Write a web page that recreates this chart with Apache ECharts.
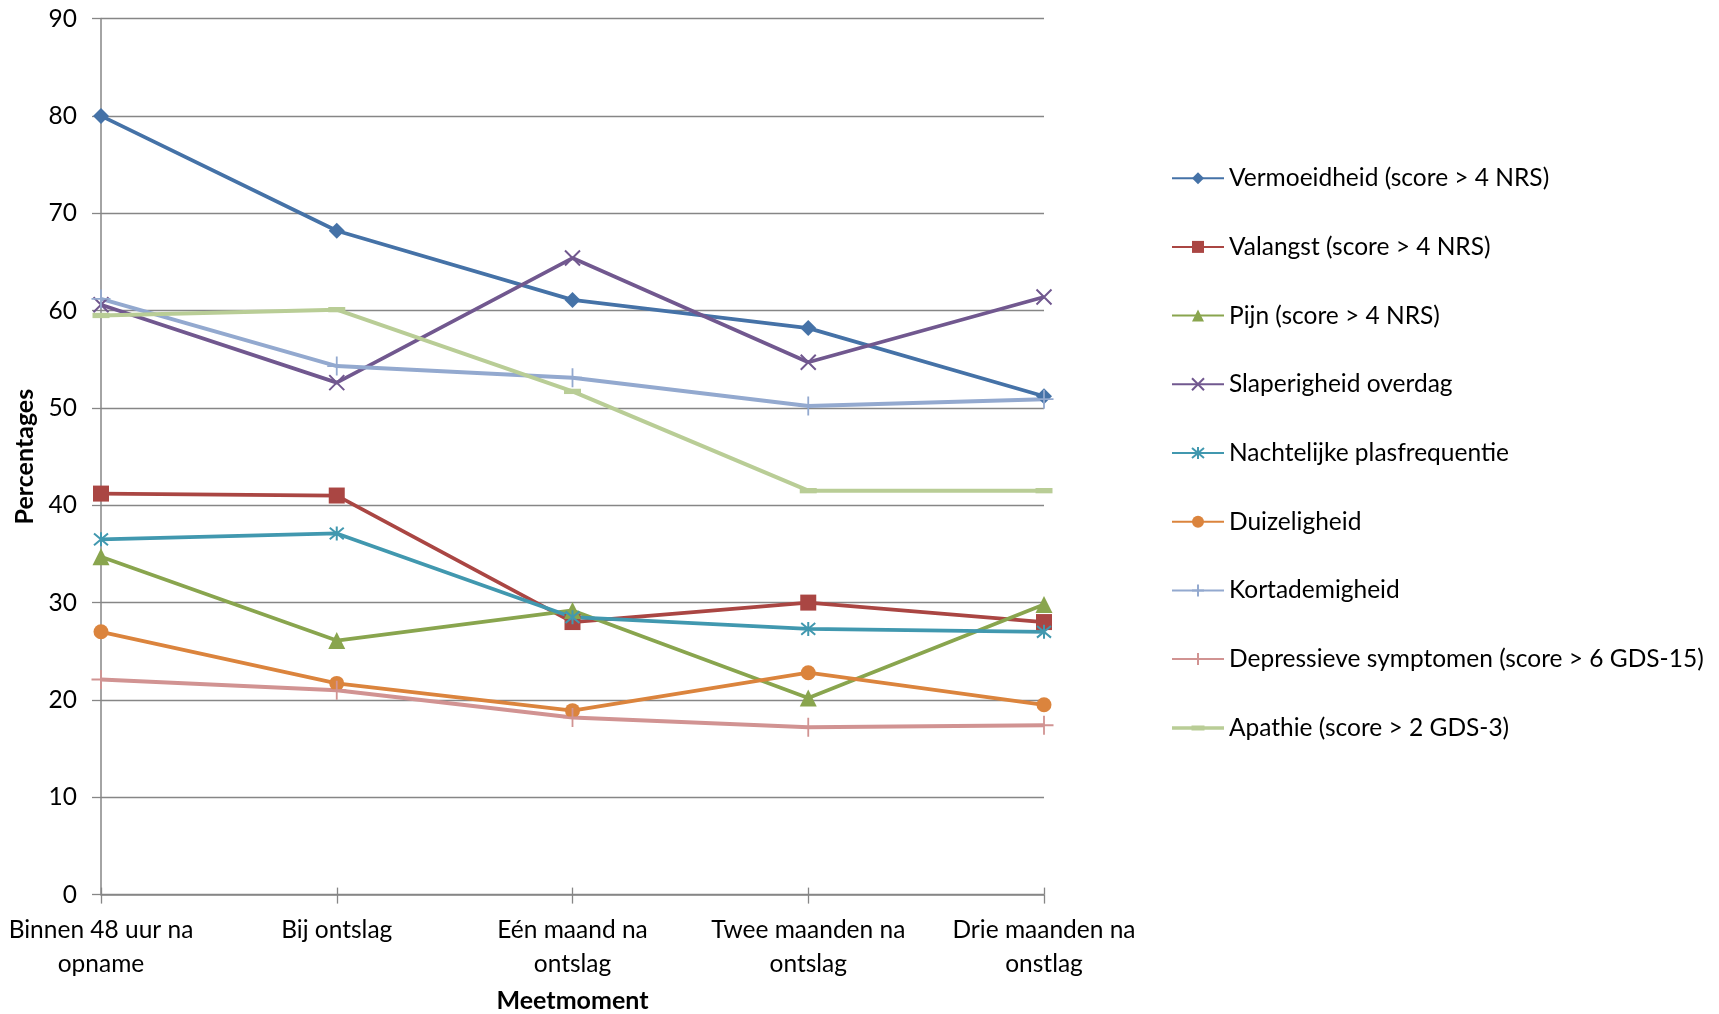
<!DOCTYPE html>
<html>
<head>
<meta charset="utf-8">
<script src="https://cdn.jsdelivr.net/npm/echarts@6/dist/echarts.min.js"></script>
<style>
html,body{margin:0;padding:0;background:#fff;}
#chart{width:1719px;height:1014px;}
</style>
</head>
<body>
<div id="chart"></div>
<script>
const categories = ["Binnen 48 uur na\nopname", "Bij ontslag", "Eén maand na\nontslag", "Twee maanden na\nontslag", "Drie maanden na\nonstlag"];
const yTicks = { min: 0, max: 90, interval: 10 };

const vermoeidheid   = [80.0, 68.2, 61.1, 58.2, 51.2];
const valangst       = [41.2, 41.0, 28.0, 30.0, 28.0];
const pijn           = [34.7, 26.1, 29.2, 20.2, 29.8];
const slaperigheid   = [60.6, 52.6, 65.4, 54.7, 61.4];
const nachtelijke    = [36.5, 37.1, 28.5, 27.3, 27.0];
const duizeligheid   = [27.0, 21.7, 18.9, 22.8, 19.5];
const kortademigheid = [61.2, 54.3, 53.1, 50.2, 50.9];
const depressieve    = [22.1, 21.0, 18.2, 17.2, 17.4];
const apathie        = [59.5, 60.1, 51.7, 41.5, 41.5];

const FONT = 'Lato';
const FS = 24.5;
const PATH_X = 'path://M0,0 L10,10 M10,0 L0,10';
const PATH_AST = 'path://M0,0 L10,10 M10,0 L0,10 M5,-1 L5,11';
const PATH_PLUS = 'path://M5,0 L5,10 M0,5 L10,5';
const PATH_DASH = 'path://M0,0 L16,0 L16,5 L0,5 Z';

function mk(name, data, color, symbol, size, opts) {
  opts = opts || {};
  return {
    name: name,
    type: 'line',
    data: data,
    symbol: symbol,
    symbolSize: size,
    symbolKeepAspect: !!opts.keep,
    showAllSymbol: true,
    lineStyle: { color: color, width: opts.lw || 3.75 },
    itemStyle: opts.stroke
      ? { color: 'rgba(0,0,0,0)', borderColor: color, borderWidth: opts.stroke }
      : { color: color, borderWidth: 0 },
    emphasis: { disabled: true },
    z: 2
  };
}

const chart = echarts.init(document.getElementById('chart'), null, { renderer: 'canvas' });
chart.setOption({
  animation: false,
  backgroundColor: '#ffffff',
  textStyle: { fontFamily: FONT, color: '#000' },
  grid: { left: 101, right: 675, top: 18.6, bottom: 119.4, containLabel: false, outerBoundsMode: 'none' },
  legend: {
    orient: 'vertical',
    left: 1166,
    top: 160.7,
    itemWidth: 52,
    itemHeight: 15,
    itemGap: 43.7,
    textStyle: { fontFamily: FONT, fontSize: FS, color: '#000', lineHeight: 15, padding: [0, 0, 0, 0] },
    data: [
      { name: 'Vermoeidheid (score > 4 NRS)' },
      { name: 'Valangst (score > 4 NRS)' },
      { name: 'Pijn (score > 4 NRS)' },
      { name: 'Slaperigheid overdag' },
      { name: 'Nachtelijke plasfrequentie' },
      { name: 'Duizeligheid' },
      { name: 'Kortademigheid' },
      { name: 'Depressieve symptomen (score > 6 GDS-15)' },
      { name: 'Apathie (score > 2 GDS-3)', icon: 'path://M0,6 L52,6 L52,9.5 L0,9.5 Z M19.5,5.2 L32.5,5.2 L32.5,10.3 L19.5,10.3 Z M0,0 L0.01,0 L0.01,0.01Z M52,15 L51.99,15 L51.99,14.99Z' }
    ]
  },
  xAxis: [{
    type: 'category',
    data: categories,
    boundaryGap: false,
    name: 'Meetmoment',
    nameLocation: 'middle',
    nameGap: 94,
    nameTextStyle: { fontFamily: FONT, fontSize: 25, fontWeight: 'bold', color: '#000', verticalAlign: 'top' },
    axisLine: { show: true, lineStyle: { color: '#868686', width: 1.5 } },
    axisTick: { show: true, length: 9, lineStyle: { color: '#868686', width: 1.3 } },
    axisLabel: { interval: 0, margin: 18, fontFamily: FONT, fontSize: FS, color: '#000', lineHeight: 34, align: 'center' },
    splitLine: { show: false }
  }, {
    type: 'category',
    data: categories,
    boundaryGap: false,
    position: 'bottom',
    axisLine: { show: false },
    axisTick: { show: true, inside: true, length: 7, lineStyle: { color: '#868686', width: 1.3 } },
    axisLabel: { show: false },
    splitLine: { show: false }
  }],
  yAxis: {
    type: 'value',
    min: yTicks.min,
    max: yTicks.max,
    interval: yTicks.interval,
    name: 'Percentages',
    nameLocation: 'middle',
    nameGap: 62,
    nameRotate: 90,
    nameTextStyle: { fontFamily: FONT, fontSize: 25, fontWeight: 'bold', color: '#000' },
    axisLine: { show: true, lineStyle: { color: '#868686', width: 1.5 } },
    axisTick: { show: true, length: 9, lineStyle: { color: '#868686', width: 1.3 } },
    axisLabel: { margin: 24, fontFamily: FONT, fontSize: FS, color: '#000' },
    splitLine: { show: true, lineStyle: { color: '#868686', width: 1.4 } }
  },
  series: [
    mk('Vermoeidheid (score > 4 NRS)', vermoeidheid, '#4572A7', 'diamond', 16),
    mk('Valangst (score > 4 NRS)', valangst, '#AA4643', 'rect', 16),
    mk('Pijn (score > 4 NRS)', pijn, '#89A54E', 'triangle', 17),
    mk('Slaperigheid overdag', slaperigheid, '#71588F', PATH_X, 15, { stroke: 2 }),
    mk('Nachtelijke plasfrequentie', nachtelijke, '#4198AF', PATH_AST, 14, { stroke: 2 }),
    mk('Duizeligheid', duizeligheid, '#DB843D', 'circle', 15),
    mk('Kortademigheid', kortademigheid, '#93A9CF', PATH_PLUS, 19, { stroke: 1.8, lw: 4 }),
    mk('Depressieve symptomen (score > 6 GDS-15)', depressieve, '#D19392', PATH_PLUS, 19, { stroke: 1.8, lw: 4 }),
    mk('Apathie (score > 2 GDS-3)', apathie, '#B9CD96', PATH_DASH, 17, { keep: true, lw: 4 })
  ]
});
</script>
</body>
</html>
